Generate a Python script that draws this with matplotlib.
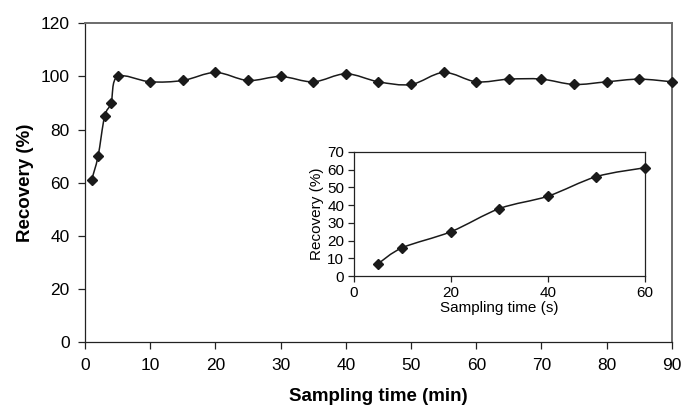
import numpy as np
import matplotlib
matplotlib.use('Agg')
import matplotlib.pyplot as plt
from matplotlib.path import Path
from matplotlib.patches import PathPatch

plt.rcParams['font.family'] = ['Liberation Sans', 'DejaVu Sans']

# main plot: recovery vs sampling time (min)
time_min = [1, 2, 3, 4, 5, 10, 15, 20, 25, 30, 35, 40, 45, 50, 55, 60, 65, 70, 75, 80, 85, 90]
recovery_min = [61, 70, 85, 90, 100, 98, 98.5, 101.5, 98.5, 100, 98, 101, 98, 97, 101.5, 98,
                99, 99, 97, 98, 99, 98]

# inset: recovery vs sampling time (s)
time_s = [5, 10, 20, 30, 40, 50, 60]
recovery_s = [7, 16, 25, 38, 45, 56, 61]


def smooth_path(x, y):
    # Excel-style smoothed line: cubic Bezier through every point
    p = np.column_stack([x, y]).astype(float)
    ext = np.vstack([p[0], p, p[-1]])
    verts = [p[0]]
    codes = [Path.MOVETO]
    for i in range(len(p) - 1):
        p0, p1, p2, p3 = ext[i], ext[i + 1], ext[i + 2], ext[i + 3]
        c1 = p1 + (p2 - p0) / 6.0
        c2 = p2 - (p3 - p1) / 6.0
        verts += [c1, c2, p2]
        codes += [Path.CURVE4] * 3
    return Path(verts, codes)


def draw_series(ax, x, y, ms, lw):
    ax.add_patch(PathPatch(smooth_path(x, y), facecolor='none', edgecolor='#1a1a1a', lw=lw))
    ax.plot(x, y, linestyle='none', marker='D', ms=ms, color='#1a1a1a', zorder=3, clip_on=False)


fig = plt.figure(figsize=(6.84, 4.09), dpi=100)
ax = fig.add_axes([0.1243, 0.163, 0.858, 0.78])

draw_series(ax, time_min, recovery_min, 5.4, 1.1)
ax.set_xlim(0, 90)
ax.set_ylim(0, 120)
ax.set_xticks(np.arange(0, 91, 10))
ax.set_yticks(np.arange(0, 121, 20))
ax.tick_params(direction='out', length=5, width=0.9, labelsize=12.5, pad=6, color='#222222')
ax.set_xlabel('Sampling time (min)', fontsize=13.5, fontweight='bold', labelpad=11)
ax.set_ylabel('Recovery (%)', fontsize=13.5, fontweight='bold', labelpad=5)
for s in ['left', 'bottom']:
    ax.spines[s].set_linewidth(0.9)
    ax.spines[s].set_color('#222222')
for s in ['top', 'right']:
    ax.spines[s].set_linewidth(1.4)
    ax.spines[s].set_color('#6b6b6b')

# inset
ins = fig.add_axes([0.5175, 0.325, 0.4254, 0.304])
draw_series(ins, time_s, recovery_s, 5.2, 1.1)
ins.set_xlim(0, 60)
ins.set_ylim(0, 70)
ins.set_xticks(np.arange(0, 61, 20))
ins.set_yticks(np.arange(0, 71, 10))
ins.tick_params(direction='out', length=4, width=0.9, labelsize=11, pad=3, color='#222222')
ins.set_xlabel('Sampling time (s)', fontsize=11, labelpad=1)
ins.set_ylabel('Recovery (%)', fontsize=11, labelpad=2)
for s in ins.spines.values():
    s.set_linewidth(0.9)
    s.set_color('#222222')

fig.savefig('out.png', dpi=100)
